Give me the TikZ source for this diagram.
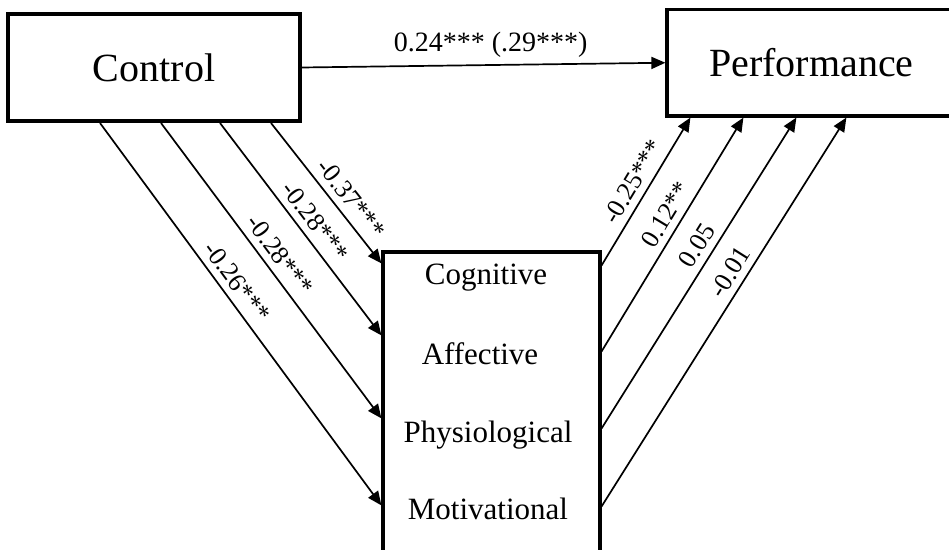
\documentclass[tikz,border=0pt]{standalone}
\usepackage{fontspec}
\setmainfont{Liberation Serif}
\usetikzlibrary{arrows.meta}
\tikzset{
  varbox/.style={draw, line width=1.6pt, inner sep=0pt, font=\fontsize{20}{24}\selectfont},
  medtext/.style={anchor=base, inner sep=0pt, font=\fontsize{15.5}{18}\selectfont},
  link/.style={line width=0.85pt, -{Triangle[length=7pt,width=6pt]}},
  coef/.style={sloped, above, font=\fontsize{13}{15}\selectfont}
}
\begin{document}
\begin{tikzpicture}[x=0.5pt, y=-0.5pt]
    \useasboundingbox (0,0) rectangle (949,550);
    % boxes
    \node[varbox, line width=2pt, minimum width=146pt, minimum height=53.5pt] (control) at (154,67.5) {Control};
    \node[varbox, minimum width=166.5pt, minimum height=53.25pt] (perf) at (833.5,62.75) {Performance\hspace*{22pt}};
    \node[varbox, minimum width=108.5pt, minimum height=150pt] (med) at (491.5,402) {};
    \node[medtext] (cog) at (486,285) {Cognitive};
    \node[medtext] (aff) at (480,365) {Affective};
    \node[medtext] (phys) at (488,443) {Physiological};
    \node[medtext] (motiv) at (488,520) {Motivational};
    % direct path
    \draw[link] (control.east) -- node[above, xshift=3.5pt, font=\fontsize{14}{16}\selectfont] {0.24*** (.29***)} (perf.west);
    % control -> mediators
    \draw[link] ([xshift=47pt]control.south west) -- node[coef, pos=0.44] {-0.26***} ([yshift=-127.5pt]med.north west);
    \draw[link] ([xshift=77.5pt]control.south west) -- node[coef, pos=0.48] {-0.28***} ([yshift=-84pt]med.north west);
    \draw[link] ([xshift=107pt]control.south west) -- node[coef, pos=0.51] {-0.28***} ([yshift=-42.5pt]med.north west);
    \draw[link] ([xshift=132.5pt]control.south west) -- node[coef, pos=0.61] {-0.37***} ([yshift=-6.5pt]med.north west);
    % mediators -> performance
    \draw[link] ([yshift=-7.5pt]med.north east) -- node[coef, pos=0.51] {-0.25***} ([xshift=12.5pt]perf.south west);
    \draw[link] ([yshift=-50.5pt]med.north east) -- node[coef, pos=0.55] {0.12**} ([xshift=39pt]perf.south west);
    \draw[link] ([yshift=-89pt]med.north east) -- node[coef, pos=0.56] {0.05} ([xshift=65.5pt]perf.south west);
    \draw[link] ([yshift=-128pt]med.north east) -- node[coef, pos=0.58] {-0.01} ([xshift=90.5pt]perf.south west);
\end{tikzpicture}
\end{document}
